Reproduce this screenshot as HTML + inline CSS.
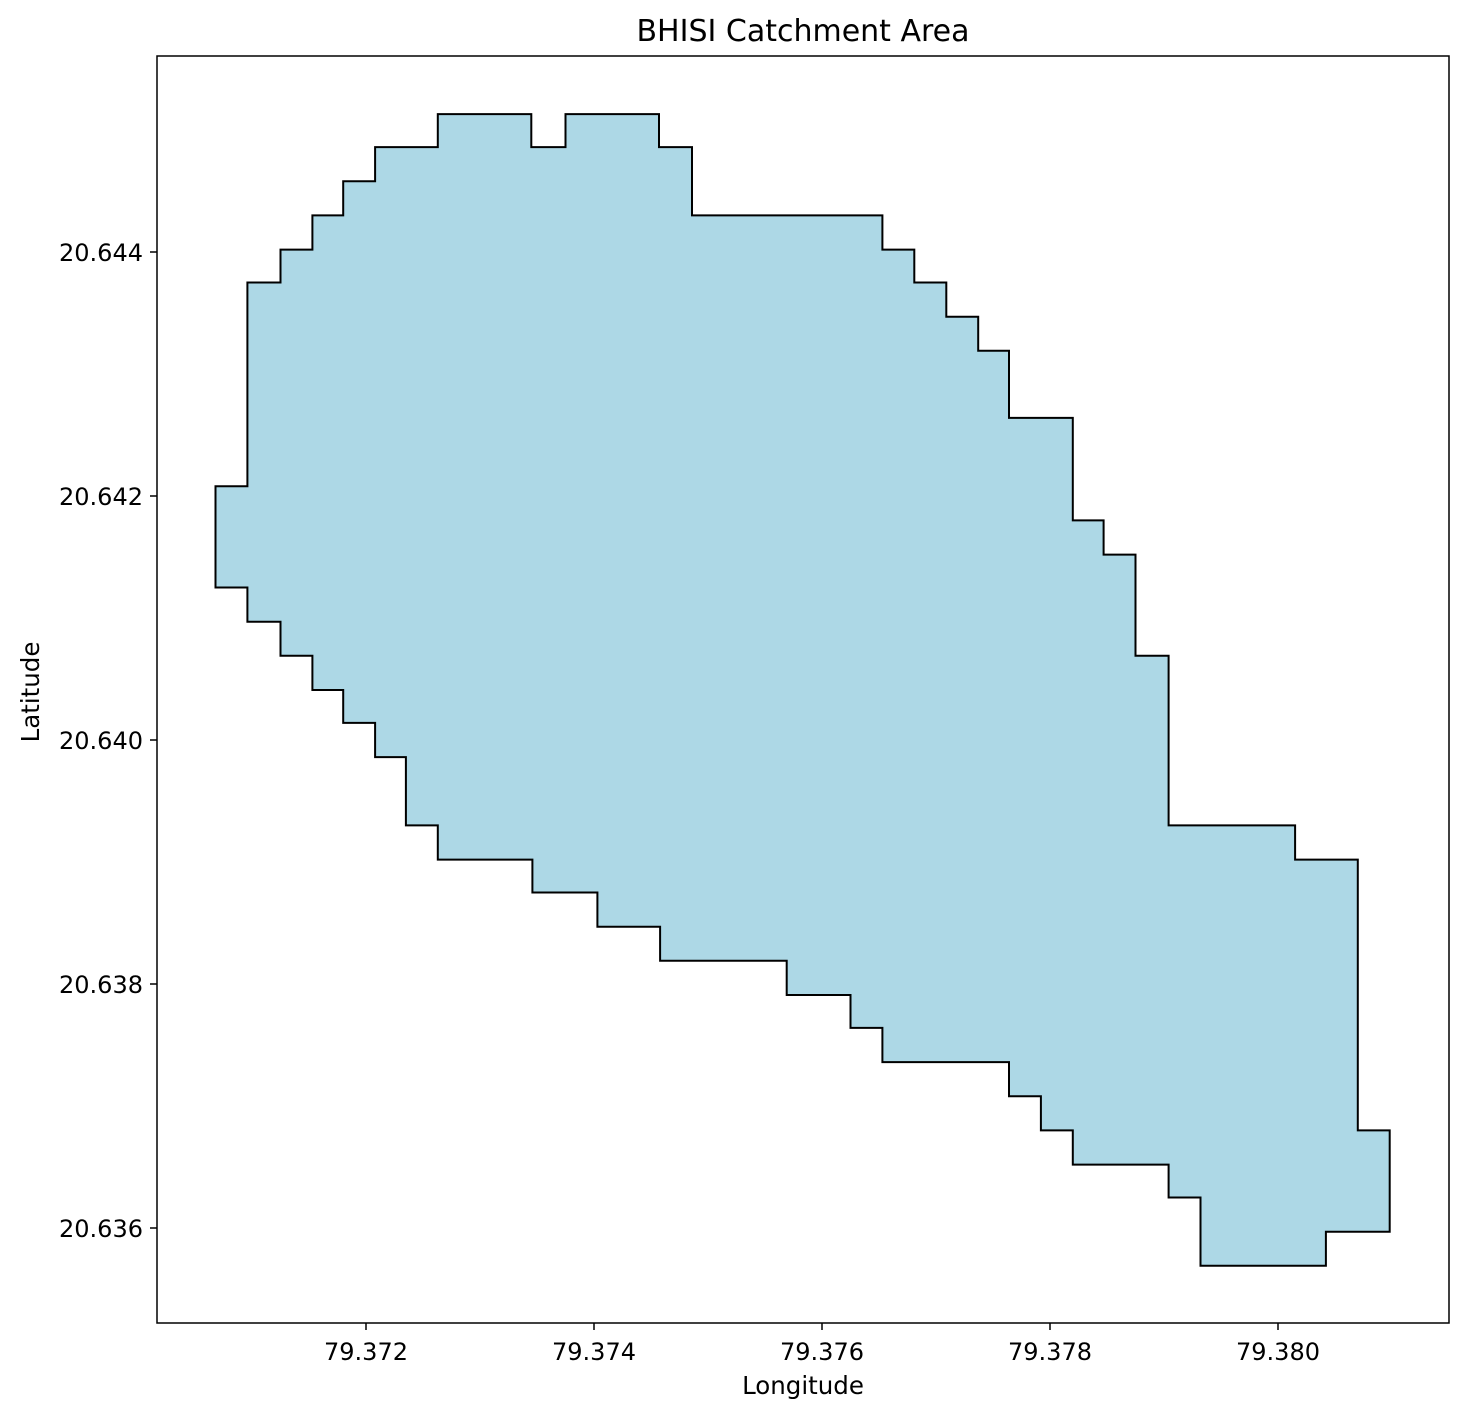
<!DOCTYPE html>
<html><head><meta charset="utf-8"><style>
body{margin:0;background:#fff;}
svg text{font-family:"DejaVu Sans","Liberation Sans",sans-serif;fill:#000;}
</style></head><body>
<svg id="chart" width="1466" height="1417" xmlns="http://www.w3.org/2000/svg">
<rect x="0" y="0" width="1466" height="1417" fill="#fff"/>
<text x="803" y="41" font-size="30" text-anchor="middle">BHISI Catchment Area</text>
<g id="plot"></g>
<rect x="157" y="56" width="1292" height="1267" fill="none" stroke="#000" stroke-width="1.5"/>
<g id="xticks"></g>
<g id="yticks"></g>
<text x="803" y="1394" font-size="24.5" text-anchor="middle">Longitude</text>
<text x="39" y="692" font-size="24.5" text-anchor="middle" transform="rotate(-90 39 692)">Latitude</text>
</svg>
<script>
const lon=[79.37263,79.37345,79.37345,79.37375,79.37375,79.37457,79.37457,79.37486,79.37486,79.37653,79.37653,79.37681,79.37681,79.37709,79.37709,79.37737,79.37737,79.37764,79.37764,79.37820,79.37820,79.37847,79.37847,79.37875,79.37875,79.37904,79.37904,79.38015,79.38015,79.38070,79.38070,79.38098,79.38098,79.38042,79.38042,79.37932,79.37932,79.37904,79.37904,79.37820,79.37820,79.37792,79.37792,79.37764,79.37764,79.37653,79.37653,79.37625,79.37625,79.37569,79.37569,79.37458,79.37458,79.37403,79.37403,79.37346,79.37346,79.37263,79.37263,79.37235,79.37235,79.37208,79.37208,79.37180,79.37180,79.37153,79.37153,79.37125,79.37125,79.37096,79.37096,79.37068,79.37068,79.37096,79.37096,79.37125,79.37125,79.37153,79.37153,79.37180,79.37180,79.37208,79.37208,79.37263];
const lat=[20.64513,20.64513,20.64486,20.64486,20.64513,20.64513,20.64486,20.64486,20.64430,20.64430,20.64402,20.64402,20.64375,20.64375,20.64347,20.64347,20.64319,20.64319,20.64264,20.64264,20.64180,20.64180,20.64152,20.64152,20.64069,20.64069,20.63930,20.63930,20.63902,20.63902,20.63680,20.63680,20.63597,20.63597,20.63569,20.63569,20.63625,20.63625,20.63652,20.63652,20.63680,20.63680,20.63708,20.63708,20.63736,20.63736,20.63764,20.63764,20.63791,20.63791,20.63819,20.63819,20.63847,20.63847,20.63875,20.63875,20.63902,20.63902,20.63930,20.63930,20.63986,20.63986,20.64014,20.64014,20.64041,20.64041,20.64069,20.64069,20.64097,20.64097,20.64125,20.64125,20.64208,20.64208,20.64375,20.64375,20.64402,20.64402,20.64430,20.64430,20.64458,20.64458,20.64486,20.64486];
const xTickVals=[79.372,79.374,79.376,79.378,79.380];
const xTickLabels=["79.372","79.374","79.376","79.378","79.380"];
const yTickVals=[20.644,20.642,20.640,20.638,20.636];
const yTickLabels=["20.644","20.642","20.640","20.638","20.636"];
const X=v=>366+(v-79.372)*114000;
const Y=v=>252-(v-20.644)*122000;
const NS="http://www.w3.org/2000/svg";
const plot=document.getElementById('plot');
const poly=document.createElementNS(NS,'polygon');
poly.setAttribute('points',lon.map((v,i)=>X(v).toFixed(1)+','+Y(lat[i]).toFixed(1)).join(' '));
poly.setAttribute('fill','#add8e6');
poly.setAttribute('stroke','#000');
poly.setAttribute('stroke-width','2');


plot.appendChild(poly);
const xg=document.getElementById('xticks');
xTickVals.forEach((v,i)=>{
  const l=document.createElementNS(NS,'line');
  l.setAttribute('x1',X(v));l.setAttribute('x2',X(v));l.setAttribute('y1',1323);l.setAttribute('y2',1330);
  l.setAttribute('stroke','#000');l.setAttribute('stroke-width','1.5');
  
  
  xg.appendChild(l);
  const t=document.createElementNS(NS,'text');
  t.setAttribute('x',X(v));t.setAttribute('y',1360);t.setAttribute('font-size','24');t.setAttribute('text-anchor','middle');
  t.textContent=xTickLabels[i];
  
  
  xg.appendChild(t);
});
const yg=document.getElementById('yticks');
yTickVals.forEach((v,i)=>{
  const l=document.createElementNS(NS,'line');
  l.setAttribute('x1',150);l.setAttribute('x2',157);l.setAttribute('y1',Y(v));l.setAttribute('y2',Y(v));
  l.setAttribute('stroke','#000');l.setAttribute('stroke-width','1.5');
  
  
  yg.appendChild(l);
  const t=document.createElementNS(NS,'text');
  t.setAttribute('x',143);t.setAttribute('y',Y(v)+9);t.setAttribute('font-size','24');t.setAttribute('text-anchor','end');
  t.textContent=yTickLabels[i];
  
  
  yg.appendChild(t);
});
</script>
</body></html>
